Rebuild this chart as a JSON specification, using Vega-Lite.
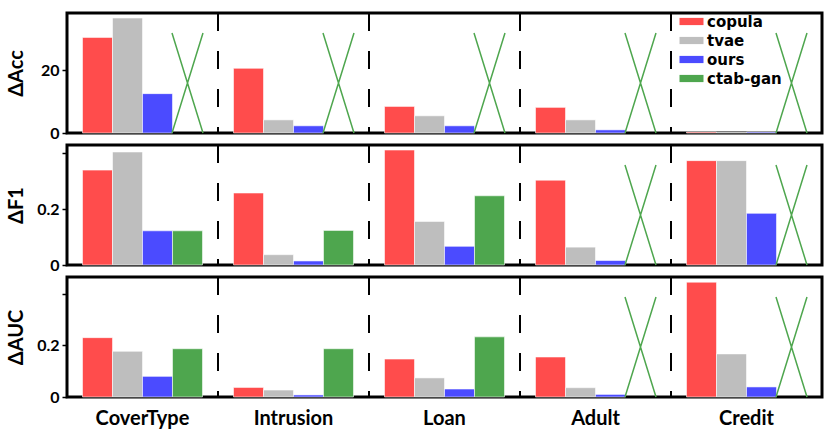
{
  "$schema": "https://vega.github.io/schema/vega-lite/v6.json",
  "padding": {"left": 4, "top": 10, "right": 5, "bottom": 5},
  "background": "white",
  "bounds": "flush",
  "datasets": {
    "main": [
      {"metric": "Acc", "dataset": "CoverType", "method": "copula", "value": 30.6},
      {"metric": "Acc", "dataset": "CoverType", "method": "tvae", "value": 36.8},
      {"metric": "Acc", "dataset": "CoverType", "method": "ours", "value": 12.6},
      {"metric": "Acc", "dataset": "CoverType", "method": "ctab-gan", "value": null},
      {"metric": "Acc", "dataset": "Intrusion", "method": "copula", "value": 20.7},
      {"metric": "Acc", "dataset": "Intrusion", "method": "tvae", "value": 4.2},
      {"metric": "Acc", "dataset": "Intrusion", "method": "ours", "value": 2.3},
      {"metric": "Acc", "dataset": "Intrusion", "method": "ctab-gan", "value": null},
      {"metric": "Acc", "dataset": "Loan", "method": "copula", "value": 8.5},
      {"metric": "Acc", "dataset": "Loan", "method": "tvae", "value": 5.5},
      {"metric": "Acc", "dataset": "Loan", "method": "ours", "value": 2.3},
      {"metric": "Acc", "dataset": "Loan", "method": "ctab-gan", "value": null},
      {"metric": "Acc", "dataset": "Adult", "method": "copula", "value": 8.2},
      {"metric": "Acc", "dataset": "Adult", "method": "tvae", "value": 4.2},
      {"metric": "Acc", "dataset": "Adult", "method": "ours", "value": 1.0},
      {"metric": "Acc", "dataset": "Adult", "method": "ctab-gan", "value": null},
      {"metric": "Acc", "dataset": "Credit", "method": "copula", "value": 0.3},
      {"metric": "Acc", "dataset": "Credit", "method": "tvae", "value": 0.15},
      {"metric": "Acc", "dataset": "Credit", "method": "ours", "value": 0.3},
      {"metric": "Acc", "dataset": "Credit", "method": "ctab-gan", "value": null},
      {"metric": "F1", "dataset": "CoverType", "method": "copula", "value": 0.340},
      {"metric": "F1", "dataset": "CoverType", "method": "tvae", "value": 0.405},
      {"metric": "F1", "dataset": "CoverType", "method": "ours", "value": 0.1225},
      {"metric": "F1", "dataset": "CoverType", "method": "ctab-gan", "value": 0.1225},
      {"metric": "F1", "dataset": "Intrusion", "method": "copula", "value": 0.258},
      {"metric": "F1", "dataset": "Intrusion", "method": "tvae", "value": 0.037},
      {"metric": "F1", "dataset": "Intrusion", "method": "ours", "value": 0.0145},
      {"metric": "F1", "dataset": "Intrusion", "method": "ctab-gan", "value": 0.124},
      {"metric": "F1", "dataset": "Loan", "method": "copula", "value": 0.412},
      {"metric": "F1", "dataset": "Loan", "method": "tvae", "value": 0.156},
      {"metric": "F1", "dataset": "Loan", "method": "ours", "value": 0.067},
      {"metric": "F1", "dataset": "Loan", "method": "ctab-gan", "value": 0.248},
      {"metric": "F1", "dataset": "Adult", "method": "copula", "value": 0.304},
      {"metric": "F1", "dataset": "Adult", "method": "tvae", "value": 0.064},
      {"metric": "F1", "dataset": "Adult", "method": "ours", "value": 0.016},
      {"metric": "F1", "dataset": "Adult", "method": "ctab-gan", "value": null},
      {"metric": "F1", "dataset": "Credit", "method": "copula", "value": 0.374},
      {"metric": "F1", "dataset": "Credit", "method": "tvae", "value": 0.374},
      {"metric": "F1", "dataset": "Credit", "method": "ours", "value": 0.185},
      {"metric": "F1", "dataset": "Credit", "method": "ctab-gan", "value": null},
      {"metric": "AUC", "dataset": "CoverType", "method": "copula", "value": 0.230},
      {"metric": "AUC", "dataset": "CoverType", "method": "tvae", "value": 0.177},
      {"metric": "AUC", "dataset": "CoverType", "method": "ours", "value": 0.080},
      {"metric": "AUC", "dataset": "CoverType", "method": "ctab-gan", "value": 0.187},
      {"metric": "AUC", "dataset": "Intrusion", "method": "copula", "value": 0.037},
      {"metric": "AUC", "dataset": "Intrusion", "method": "tvae", "value": 0.027},
      {"metric": "AUC", "dataset": "Intrusion", "method": "ours", "value": 0.008},
      {"metric": "AUC", "dataset": "Intrusion", "method": "ctab-gan", "value": 0.187},
      {"metric": "AUC", "dataset": "Loan", "method": "copula", "value": 0.147},
      {"metric": "AUC", "dataset": "Loan", "method": "tvae", "value": 0.074},
      {"metric": "AUC", "dataset": "Loan", "method": "ours", "value": 0.031},
      {"metric": "AUC", "dataset": "Loan", "method": "ctab-gan", "value": 0.233},
      {"metric": "AUC", "dataset": "Adult", "method": "copula", "value": 0.155},
      {"metric": "AUC", "dataset": "Adult", "method": "tvae", "value": 0.036},
      {"metric": "AUC", "dataset": "Adult", "method": "ours", "value": 0.010},
      {"metric": "AUC", "dataset": "Adult", "method": "ctab-gan", "value": null},
      {"metric": "AUC", "dataset": "Credit", "method": "copula", "value": 0.445},
      {"metric": "AUC", "dataset": "Credit", "method": "tvae", "value": 0.167},
      {"metric": "AUC", "dataset": "Credit", "method": "ours", "value": 0.039},
      {"metric": "AUC", "dataset": "Credit", "method": "ctab-gan", "value": null}
    ]
  },
  "spacing": 12,
  "vconcat": [
    {
      "width": 755, "height": 120,
      "data": {"name": "main"},
      "transform": [{"filter": "datum.metric == 'Acc'"}],
      "layer": [
        {
          "mark": {"type": "bar", "stroke": "white", "strokeWidth": 0.8, "strokeOpacity": 0.7},
          "encoding": {
            "x": {"field": "dataset", "type": "nominal", "sort": ["CoverType", "Intrusion", "Loan", "Adult", "Credit"], "scale": {"paddingInner": 0, "paddingOuter": 0}, "axis": null},
            "xOffset": {"field": "method", "type": "nominal", "sort": ["copula", "tvae", "ours", "ctab-gan"], "scale": {"paddingInner": 0, "paddingOuter": 0.517}},
            "y": {"field": "value", "type": "quantitative", "scale": {"domain": [0, 38.4], "nice": false}, "axis": {"values": [0, 20], "title": "ΔAcc", "titleX": -41}},
            "color": {"field": "method", "type": "nominal", "scale": {"domain": ["copula", "tvae", "ours", "ctab-gan"], "range": ["#ff4c4c", "#bebebe", "#4b4bff", "#4ea64e"]},
              "legend": {"orient": "none", "legendX": 617, "legendY": 1, "title": null}}
          }
        },
        {
          "transform": [{"filter": "datum.value == null"}],
          "mark": {"type": "point", "shape": "M -0.31 -1 L 0.31 1 M 0.31 -1 L -0.31 1", "filled": false, "stroke": "#4ea64e", "strokeWidth": 1.5, "size": 10000, "opacity": 1, "yOffset": -50},
          "encoding": {
            "x": {"field": "dataset", "type": "nominal", "sort": ["CoverType", "Intrusion", "Loan", "Adult", "Credit"]},
            "xOffset": {"field": "method", "type": "nominal", "sort": ["copula", "tvae", "ours", "ctab-gan"]},
            "y": {"datum": 0}
          }
        },
        {
          "transform": [{"filter": "datum.method == 'copula' && datum.dataset != 'CoverType'"}],
          "mark": {"type": "rule", "color": "black", "strokeWidth": 2, "strokeDash": [18, 20]},
          "encoding": {
            "x": {"field": "dataset", "type": "nominal", "sort": ["CoverType", "Intrusion", "Loan", "Adult", "Credit"], "bandPosition": 0}
          }
        }
      ]
    },
    {
      "width": 755, "height": 120,
      "data": {"name": "main"},
      "transform": [{"filter": "datum.metric == 'F1'"}],
      "layer": [
        {
          "mark": {"type": "bar", "stroke": "white", "strokeWidth": 0.8, "strokeOpacity": 0.7},
          "encoding": {
            "x": {"field": "dataset", "type": "nominal", "sort": ["CoverType", "Intrusion", "Loan", "Adult", "Credit"], "scale": {"paddingInner": 0, "paddingOuter": 0}, "axis": null},
            "xOffset": {"field": "method", "type": "nominal", "sort": ["copula", "tvae", "ours", "ctab-gan"], "scale": {"paddingInner": 0, "paddingOuter": 0.517}},
            "y": {"field": "value", "type": "quantitative", "scale": {"domain": [0, 0.43], "nice": false}, "axis": {"values": [0, 0.2, 0.4], "title": "ΔF1", "titleX": -41, "labelExpr": "datum.value == 0 ? '0' : (datum.value > 0.3 ? '' : format(datum.value, '.1f'))"}},
            "color": {"field": "method", "type": "nominal", "scale": {"domain": ["copula", "tvae", "ours", "ctab-gan"], "range": ["#ff4c4c", "#bebebe", "#4b4bff", "#4ea64e"]},
              "legend": {"orient": "none", "legendX": 617, "legendY": 1, "title": null}}
          }
        },
        {
          "transform": [{"filter": "datum.value == null"}],
          "mark": {"type": "point", "shape": "M -0.31 -1 L 0.31 1 M 0.31 -1 L -0.31 1", "filled": false, "stroke": "#4ea64e", "strokeWidth": 1.5, "size": 10000, "opacity": 1, "yOffset": -50},
          "encoding": {
            "x": {"field": "dataset", "type": "nominal", "sort": ["CoverType", "Intrusion", "Loan", "Adult", "Credit"]},
            "xOffset": {"field": "method", "type": "nominal", "sort": ["copula", "tvae", "ours", "ctab-gan"]},
            "y": {"datum": 0}
          }
        },
        {
          "transform": [{"filter": "datum.method == 'copula' && datum.dataset != 'CoverType'"}],
          "mark": {"type": "rule", "color": "black", "strokeWidth": 2, "strokeDash": [18, 20]},
          "encoding": {
            "x": {"field": "dataset", "type": "nominal", "sort": ["CoverType", "Intrusion", "Loan", "Adult", "Credit"], "bandPosition": 0}
          }
        }
      ]
    },
    {
      "width": 755, "height": 120,
      "data": {"name": "main"},
      "transform": [{"filter": "datum.metric == 'AUC'"}],
      "layer": [
        {
          "mark": {"type": "bar", "stroke": "white", "strokeWidth": 0.8, "strokeOpacity": 0.7},
          "encoding": {
            "x": {"field": "dataset", "type": "nominal", "sort": ["CoverType", "Intrusion", "Loan", "Adult", "Credit"], "scale": {"paddingInner": 0, "paddingOuter": 0},
              "axis": {"title": null, "labelAngle": 0, "ticks": false, "domain": false, "labelFont": "Lato", "labelFontSize": 20, "labelFontWeight": "bold", "labelPadding": 11}},
            "xOffset": {"field": "method", "type": "nominal", "sort": ["copula", "tvae", "ours", "ctab-gan"], "scale": {"paddingInner": 0, "paddingOuter": 0.517}},
            "y": {"field": "value", "type": "quantitative", "scale": {"domain": [0, 0.465], "nice": false}, "axis": {"values": [0, 0.2, 0.4], "title": "ΔAUC", "titleX": -41, "labelExpr": "datum.value == 0 ? '0' : (datum.value > 0.3 ? '' : format(datum.value, '.1f'))"}},
            "color": {"field": "method", "type": "nominal", "scale": {"domain": ["copula", "tvae", "ours", "ctab-gan"], "range": ["#ff4c4c", "#bebebe", "#4b4bff", "#4ea64e"]},
              "legend": {"orient": "none", "legendX": 617, "legendY": 1, "title": null}}
          }
        },
        {
          "transform": [{"filter": "datum.value == null"}],
          "mark": {"type": "point", "shape": "M -0.31 -1 L 0.31 1 M 0.31 -1 L -0.31 1", "filled": false, "stroke": "#4ea64e", "strokeWidth": 1.5, "size": 10000, "opacity": 1, "yOffset": -50},
          "encoding": {
            "x": {"field": "dataset", "type": "nominal", "sort": ["CoverType", "Intrusion", "Loan", "Adult", "Credit"]},
            "xOffset": {"field": "method", "type": "nominal", "sort": ["copula", "tvae", "ours", "ctab-gan"]},
            "y": {"datum": 0}
          }
        },
        {
          "transform": [{"filter": "datum.method == 'copula' && datum.dataset != 'CoverType'"}],
          "mark": {"type": "rule", "color": "black", "strokeWidth": 2, "strokeDash": [18, 20]},
          "encoding": {
            "x": {"field": "dataset", "type": "nominal", "sort": ["CoverType", "Intrusion", "Loan", "Adult", "Credit"], "bandPosition": 0}
          }
        }
      ]
    }
  ],
  "config": {
    "view": {"stroke": "black", "strokeWidth": 3},
    "axis": {"grid": false, "domain": false, "tickColor": "black", "tickWidth": 1.5, "tickSize": 5, "labelFont": "Lato", "labelFontSize": 16, "labelFontWeight": "bold", "labelColor": "black", "labelPadding": 3, "titleFont": "Lato", "titleFontSize": 20, "titleFontWeight": "bold", "titleColor": "black"},
    "legend": {"symbolType": "M -2 -0.6 L 2 -0.6 L 2 0.6 L -2 0.6 Z", "symbolSize": 144, "symbolStrokeWidth": 0, "labelFont": "DejaVu Sans", "labelFontSize": 15, "labelFontWeight": "bold", "labelColor": "black", "labelOffset": 8, "rowPadding": 3, "padding": 0}
  }
}
